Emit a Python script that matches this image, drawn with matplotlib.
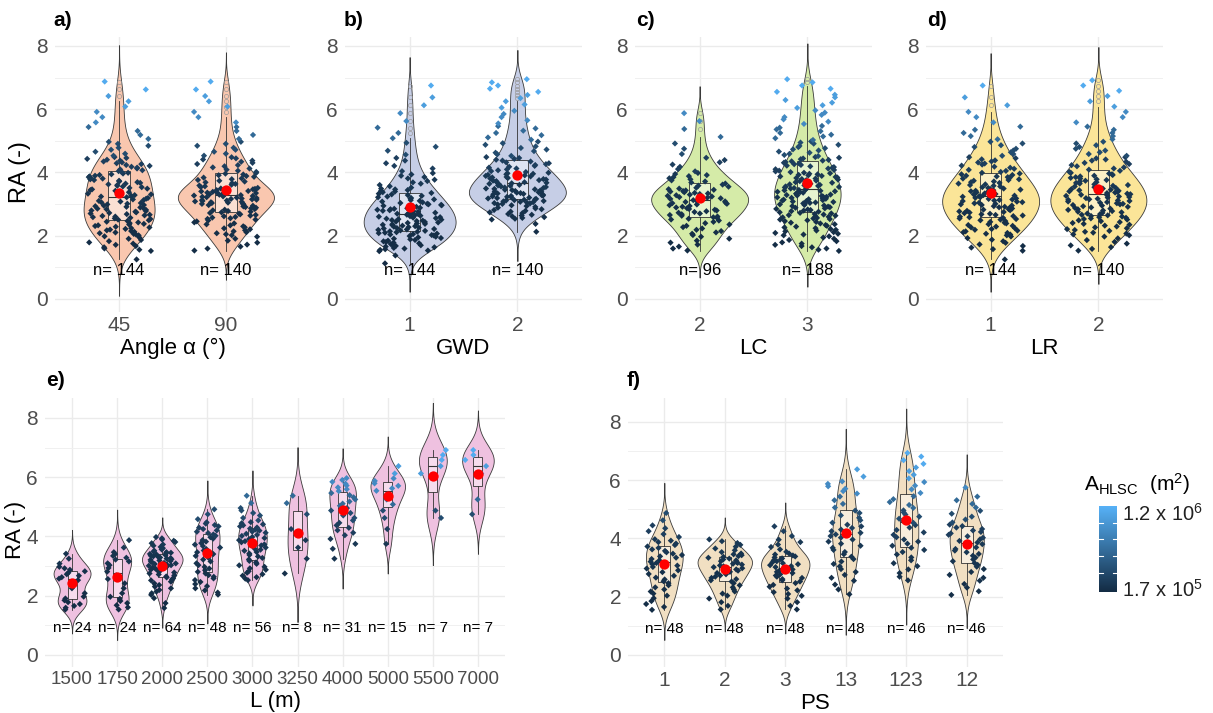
import numpy as np
import matplotlib.pyplot as plt
from matplotlib.colors import LinearSegmentedColormap, Normalize
from matplotlib.cm import ScalarMappable

plt.rcParams['font.family'] = ['Liberation Sans', 'DejaVu Sans']
plt.rcParams['mathtext.fontset'] = 'custom'
plt.rcParams['mathtext.rm'] = 'Liberation Sans'
plt.rcParams['mathtext.it'] = 'Liberation Sans:italic'

# RA histogram bins: lower edges 1.0, 1.5, ..., 7.5 (width 0.5)
bin_lo = np.arange(1.0, 8.0, 0.5)
# typical A_HLSC (x 1e5 m2) of the runs falling in each RA bin
area_bin = [1.8, 1.9, 2.0, 2.2, 2.4, 2.7, 3.2, 4.2, 6.5, 9.0, 10.5, 11.5, 12.0, 12.0]

# counts of runs per RA bin
angle_cats = ['45', '90']
angle_counts = [[1, 13, 22, 26, 22, 22, 18, 8, 4, 3, 3, 2, 0, 0],
                [0, 8, 16, 24, 38, 20, 14, 8, 4, 3, 3, 2, 0, 0]]
gwd_cats = ['1', '2']
gwd_counts = [[2, 24, 34, 32, 22, 12, 6, 4, 3, 2, 2, 1, 0, 0],
              [0, 0, 2, 20, 38, 30, 18, 10, 7, 5, 5, 5, 0, 0]]
lc_cats = ['2', '3']
lc_counts = [[0, 8, 12, 21, 26, 15, 7, 3, 2, 2, 0, 0, 0, 0],
             [0, 13, 20, 28, 34, 30, 22, 14, 9, 7, 6, 5, 0, 0]]
lr_cats = ['1', '2']
lr_counts = [[1, 10, 20, 27, 29, 22, 15, 9, 5, 3, 2, 1, 0, 0],
             [0, 9, 18, 26, 28, 22, 14, 9, 5, 3, 3, 3, 0, 0]]
l_cats = ['1500', '1750', '2000', '2500', '3000', '3250', '4000', '5000', '5500', '7000']
l_counts = [[0, 8, 3, 10, 3, 0, 0, 0, 0, 0, 0, 0, 0, 0],
            [0, 7, 3, 4, 8, 2, 0, 0, 0, 0, 0, 0, 0, 0],
            [0, 3, 9, 15, 25, 12, 0, 0, 0, 0, 0, 0, 0, 0],
            [0, 0, 7, 9, 8, 10, 11, 3, 0, 0, 0, 0, 0, 0],
            [0, 0, 0, 10, 10, 14, 14, 6, 2, 0, 0, 0, 0, 0],
            [0, 0, 0, 1, 1, 2, 1, 1, 2, 0, 0, 0, 0, 0],
            [0, 0, 0, 0, 1, 3, 6, 6, 7, 8, 0, 0, 0, 0],
            [0, 0, 0, 0, 0, 1, 1, 2, 3, 6, 2, 0, 0, 0],
            [0, 0, 0, 0, 0, 0, 0, 2, 0, 0, 2, 3, 0, 0],
            [0, 0, 0, 0, 0, 0, 0, 1, 1, 0, 2, 3, 0, 0]]
ps_cats = ['1', '2', '3', '13', '123', '12']
ps_counts = [[0, 5, 7, 8, 11, 10, 5, 2, 0, 0, 0, 0, 0, 0],
             [0, 4, 7, 12, 17, 8, 0, 0, 0, 0, 0, 0, 0, 0],
             [0, 4, 8, 12, 15, 6, 3, 0, 0, 0, 0, 0, 0, 0],
             [0, 0, 3, 5, 6, 7, 9, 6, 4, 6, 2, 0, 0, 0],
             [0, 0, 0, 4, 5, 7, 6, 7, 5, 4, 4, 4, 0, 0],
             [0, 0, 4, 5, 8, 9, 10, 5, 4, 1, 0, 0, 0, 0]]

cmap = LinearSegmentedColormap.from_list('gg', ['#132B43', '#56B1F7'])
norm = Normalize(1.7e5, 1.2e6)
W, H = 1213, 713


def expand(counts):
    vals, area = [], []
    for lo, k, a in zip(bin_lo, counts, area_bin):
        if k:
            vals.extend(lo + (np.arange(k) + 0.5) / k * 0.5)
            area.extend([a * 1e5] * k)
    return np.array(vals), np.array(area)


def jitter(n, seed, w=0.3):
    # deterministic hash jitter (horizontal position only)
    h = np.sin((np.arange(n) + 1) * 12.9898 + seed * 78.233) * 43758.5453
    return (h % 1.0 - 0.5) * 2 * w


def kde(v):
    n = len(v)
    sd = v.std(ddof=1)
    iqr = np.percentile(v, 75) - np.percentile(v, 25)
    bw = 0.9 * min(sd, iqr / 1.34) * n ** -0.2
    y = np.linspace(v.min() - 3 * bw, v.max() + 3 * bw, 300)
    d = np.exp(-0.5 * ((y[:, None] - v[None, :]) / bw) ** 2).sum(1) / (n * bw * np.sqrt(2 * np.pi))
    return y, d


def add_ax(fig, l, t, r, b):
    return fig.add_axes([l / W, 1 - b / H, (r - l) / W, (b - t) / H])


def panel(ax, cats, counts, fill, ylim, xfs, nfs, xlabel, seed):
    data = [expand(c) for c in counts]
    dens = [kde(v) for v, _ in data]
    dmax = max(d.max() for _, d in dens)
    pos = np.arange(1, len(cats) + 1)
    for x, (y, d) in zip(pos, dens):
        hw = d / dmax * 0.45
        ax.fill_betweenx(y, x - hw, x + hw, facecolor=fill, edgecolor='#3a3a3a', lw=0.6, zorder=2)
    ax.boxplot([v for v, _ in data], positions=pos, widths=0.2, patch_artist=True,
               showcaps=False, manage_ticks=False, zorder=3,
               boxprops=dict(facecolor=(1, 1, 1, 0.45), edgecolor='#333333', lw=0.6),
               medianprops=dict(color='#333333', lw=0.8),
               whiskerprops=dict(color='#333333', lw=0.6),
               flierprops=dict(marker='o', mfc='none', mec='#999999', ms=3, mew=0.5))
    for i, (x, (v, a)) in enumerate(zip(pos, data)):
        ax.scatter(x + jitter(len(v), seed * 10 + i), v, c=a, cmap=cmap, norm=norm,
                   marker='D', s=10, lw=0, zorder=4)
        ax.scatter([x], [v.mean()], s=55, c='red', lw=0, zorder=5)
        ax.text(x, 0.9, f'n= {len(v)}', ha='center', va='center', fontsize=nfs, zorder=6)
    for s in ax.spines.values():
        s.set_visible(False)
    ax.set_xlim(0.4, len(cats) + 0.6)
    ax.set_ylim(*ylim)
    ax.set_xticks(pos)
    ax.set_xticklabels(cats)
    ax.set_yticks([0, 2, 4, 6, 8])
    ax.set_yticks([1, 3, 5, 7], minor=True)
    ax.grid(which='major', color='#EBEBEB', lw=1.0)
    ax.yaxis.grid(True, which='minor', color='#F0F0F0', lw=0.7)
    ax.set_axisbelow(True)
    ax.tick_params(which='both', length=0, colors='#4D4D4D')
    ax.tick_params(axis='y', labelsize=15, pad=5)
    ax.tick_params(axis='x', labelsize=xfs, pad=3)
    ax.set_xlabel(xlabel, fontsize=16, labelpad=2)


fig = plt.figure(figsize=(W / 100, H / 100), dpi=100)
top = (-0.4, 8.3)
ax_a = add_ax(fig, 55, 36.5, 290, 311.6)
panel(ax_a, angle_cats, angle_counts, '#F9C7AF', top, 15, 12, 'Angle α (°)', 1)
ax_b = add_ax(fig, 345, 36.5, 582, 311.6)
panel(ax_b, gwd_cats, gwd_counts, '#C6CEE6', top, 15, 12, 'GWD', 2)
ax_c = add_ax(fig, 635, 36.5, 872, 311.6)
panel(ax_c, lc_cats, lc_counts, '#D5EBA8', top, 15, 12, 'LC', 3)
ax_d = add_ax(fig, 926, 36.5, 1163, 311.6)
panel(ax_d, lr_cats, lr_counts, '#FBE598', top, 15, 12, 'LR', 4)
ax_e = add_ax(fig, 45, 398.4, 505, 667.1)
panel(ax_e, l_cats, l_counts, '#EFC1E0', (-0.41, 8.66), 13.5, 11, 'L (m)', 5)
ax_f = add_ax(fig, 628, 398.1, 1003, 667.2)
panel(ax_f, ps_cats, ps_counts, '#F1DFC2', (-0.42, 8.82), 15, 11, 'PS', 6)

for lab, x, y in [('a)', 53, 21), ('b)', 344, 21), ('c)', 636, 21), ('d)', 927, 21),
                  ('e)', 46, 381), ('f)', 627, 381)]:
    fig.text(x / W, 1 - y / H, lab, fontsize=15, fontweight='bold', va='center', ha='left')
fig.text(20 / W, 1 - 172 / H, 'RA (-)', rotation=90, fontsize=17, va='center', ha='center')
fig.text(16 / W, 1 - 530 / H, 'RA (-)', rotation=90, fontsize=16, va='center', ha='center')

# colour bar
cax = add_ax(fig, 1099, 506, 1117, 592)
cb = fig.colorbar(ScalarMappable(norm=norm, cmap=cmap), cax=cax)
cb.outline.set_visible(False)
cb.set_ticks([])
cax.tick_params(length=0)
for v in [4e5, 6e5, 8e5, 1e6]:
    cax.plot([0, 0.2], [v, v], color='white', lw=0.8)
    cax.plot([0.8, 1], [v, v], color='white', lw=0.8)
fig.text(1122 / W, 1 - 514 / H, r'1.2 x 10$^6$', fontsize=14.5, va='center', ha='left', color='#222222')
fig.text(1122 / W, 1 - 590 / H, r'1.7 x 10$^5$', fontsize=14.5, va='center', ha='left', color='#222222')
fig.text(1084 / W, 1 - 484 / H, r'A$_{\mathrm{HLSC}}$  (m$^2$)', fontsize=15, va='center', ha='left')

fig.savefig('out.png', dpi=100, facecolor='white')
